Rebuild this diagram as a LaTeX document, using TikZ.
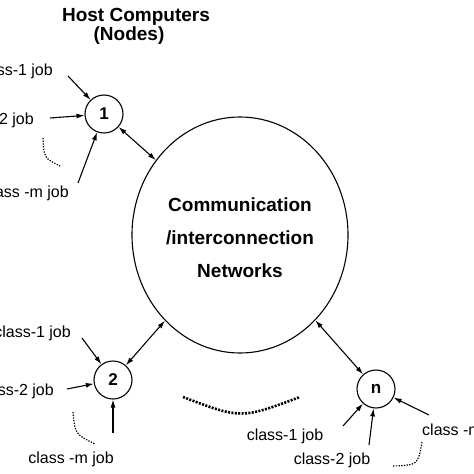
\documentclass[tikz,border=0pt]{standalone}
\usepackage{fontspec}
\setmainfont{Liberation Sans}
\usetikzlibrary{shapes.geometric,arrows.meta}
\begin{document}
\begin{tikzpicture}[x=1pt,y=-1pt,
  hostnode/.style={circle,draw,line width=1.1pt,minimum size=38pt,inner sep=0pt,font=\fontsize{17}{17}\selectfont\bfseries},
  job/.style={inner sep=0pt,font=\fontsize{16}{16}\selectfont},
  bold/.style={inner sep=0pt,font=\fontsize{19}{19}\selectfont\bfseries},
  arr/.style={-{Latex[length=8pt,width=5pt]},line width=1.1pt},
  darr/.style={{Latex[length=8pt,width=5pt]}-{Latex[length=8pt,width=5pt]},line width=1.1pt},
  dots/.style={line width=1.2pt,dash pattern=on 1.3pt off 1.4pt},
  heavydots/.style={line width=2.6pt,dash pattern=on 2pt off 1.4pt}]
\useasboundingbox (0,0) rectangle (474,474);
% title
\node[bold,anchor=base] (t1) at (136,21) {Host Computers};
\node[bold,anchor=base] (t2) at (129,40) {(Nodes)};
% network
\node[ellipse,draw,line width=1.1pt,minimum width=216pt,minimum height=236pt,inner sep=0pt] (net) at (240,235) {};
\node[bold,anchor=base] (c1) at (240,211) {Communication};
\node[bold,anchor=base] (c2) at (240,244) {/interconnection};
\node[bold,anchor=base] (c3) at (240,277) {Networks};
% hosts
\node[hostnode] (h1) at (104,114) {1};
\node[hostnode] (h2) at (113,380) {2};
\node[hostnode] (hn) at (376,389) {n};
\draw[darr] (h1) -- (net);
\draw[darr] (h2) -- (net);
\draw[darr] (hn) -- (net);
% host 1 jobs
\coordinate (a11) at (68,76);
\coordinate (a12) at (50,118);
\coordinate (a1m) at (78,183);
\draw[arr] (a11) -- (h1);
\draw[arr] (a12) -- (h1);
\draw[arr] (a1m) -- (h1);
\node[job,anchor=east] (l11) at (53,71) {class-1 job};
\node[job,anchor=east] (l12) at (34,120) {class-2 job};
\node[job,anchor=east] (l1m) at (69,193) {class -m job};
\draw[dots] (43,138) .. controls (44,158) .. (60,166);
% host 2 jobs
\coordinate (a21) at (82,338);
\coordinate (a22) at (67,389);
\coordinate (a2m) at (113,433);
\draw[arr] (a21) -- (h2);
\draw[arr] (a22) -- (h2);
\draw[arr] (a2m) -- (h2);
\node[job,anchor=east] (l21) at (71,333) {class-1 job};
\node[job,anchor=east] (l22) at (54,391) {class-2 job};
\node[job] (l2m) at (71,459) {class -m job};
\draw[dots] (73,412) .. controls (75,434) .. (95,444);
% middle dots
\draw[heavydots] (183,397) .. controls (241,419) .. (300,397);
% host n jobs
\coordinate (an1) at (343,426);
\coordinate (an2) at (369,445);
\coordinate (anm) at (429,415);
\draw[arr] (an1) -- (hn);
\draw[arr] (an2) -- (hn);
\draw[arr] (anm) -- (hn);
\node[job] (ln1) at (285,436) {class-1 job};
\node[job] (ln2) at (332,460) {class-2 job};
\node[job,anchor=west] (lnm) at (422,431) {class -m job};
\draw[dots] (422,442) .. controls (418,465) .. (393,466);
\end{tikzpicture}
\end{document}
